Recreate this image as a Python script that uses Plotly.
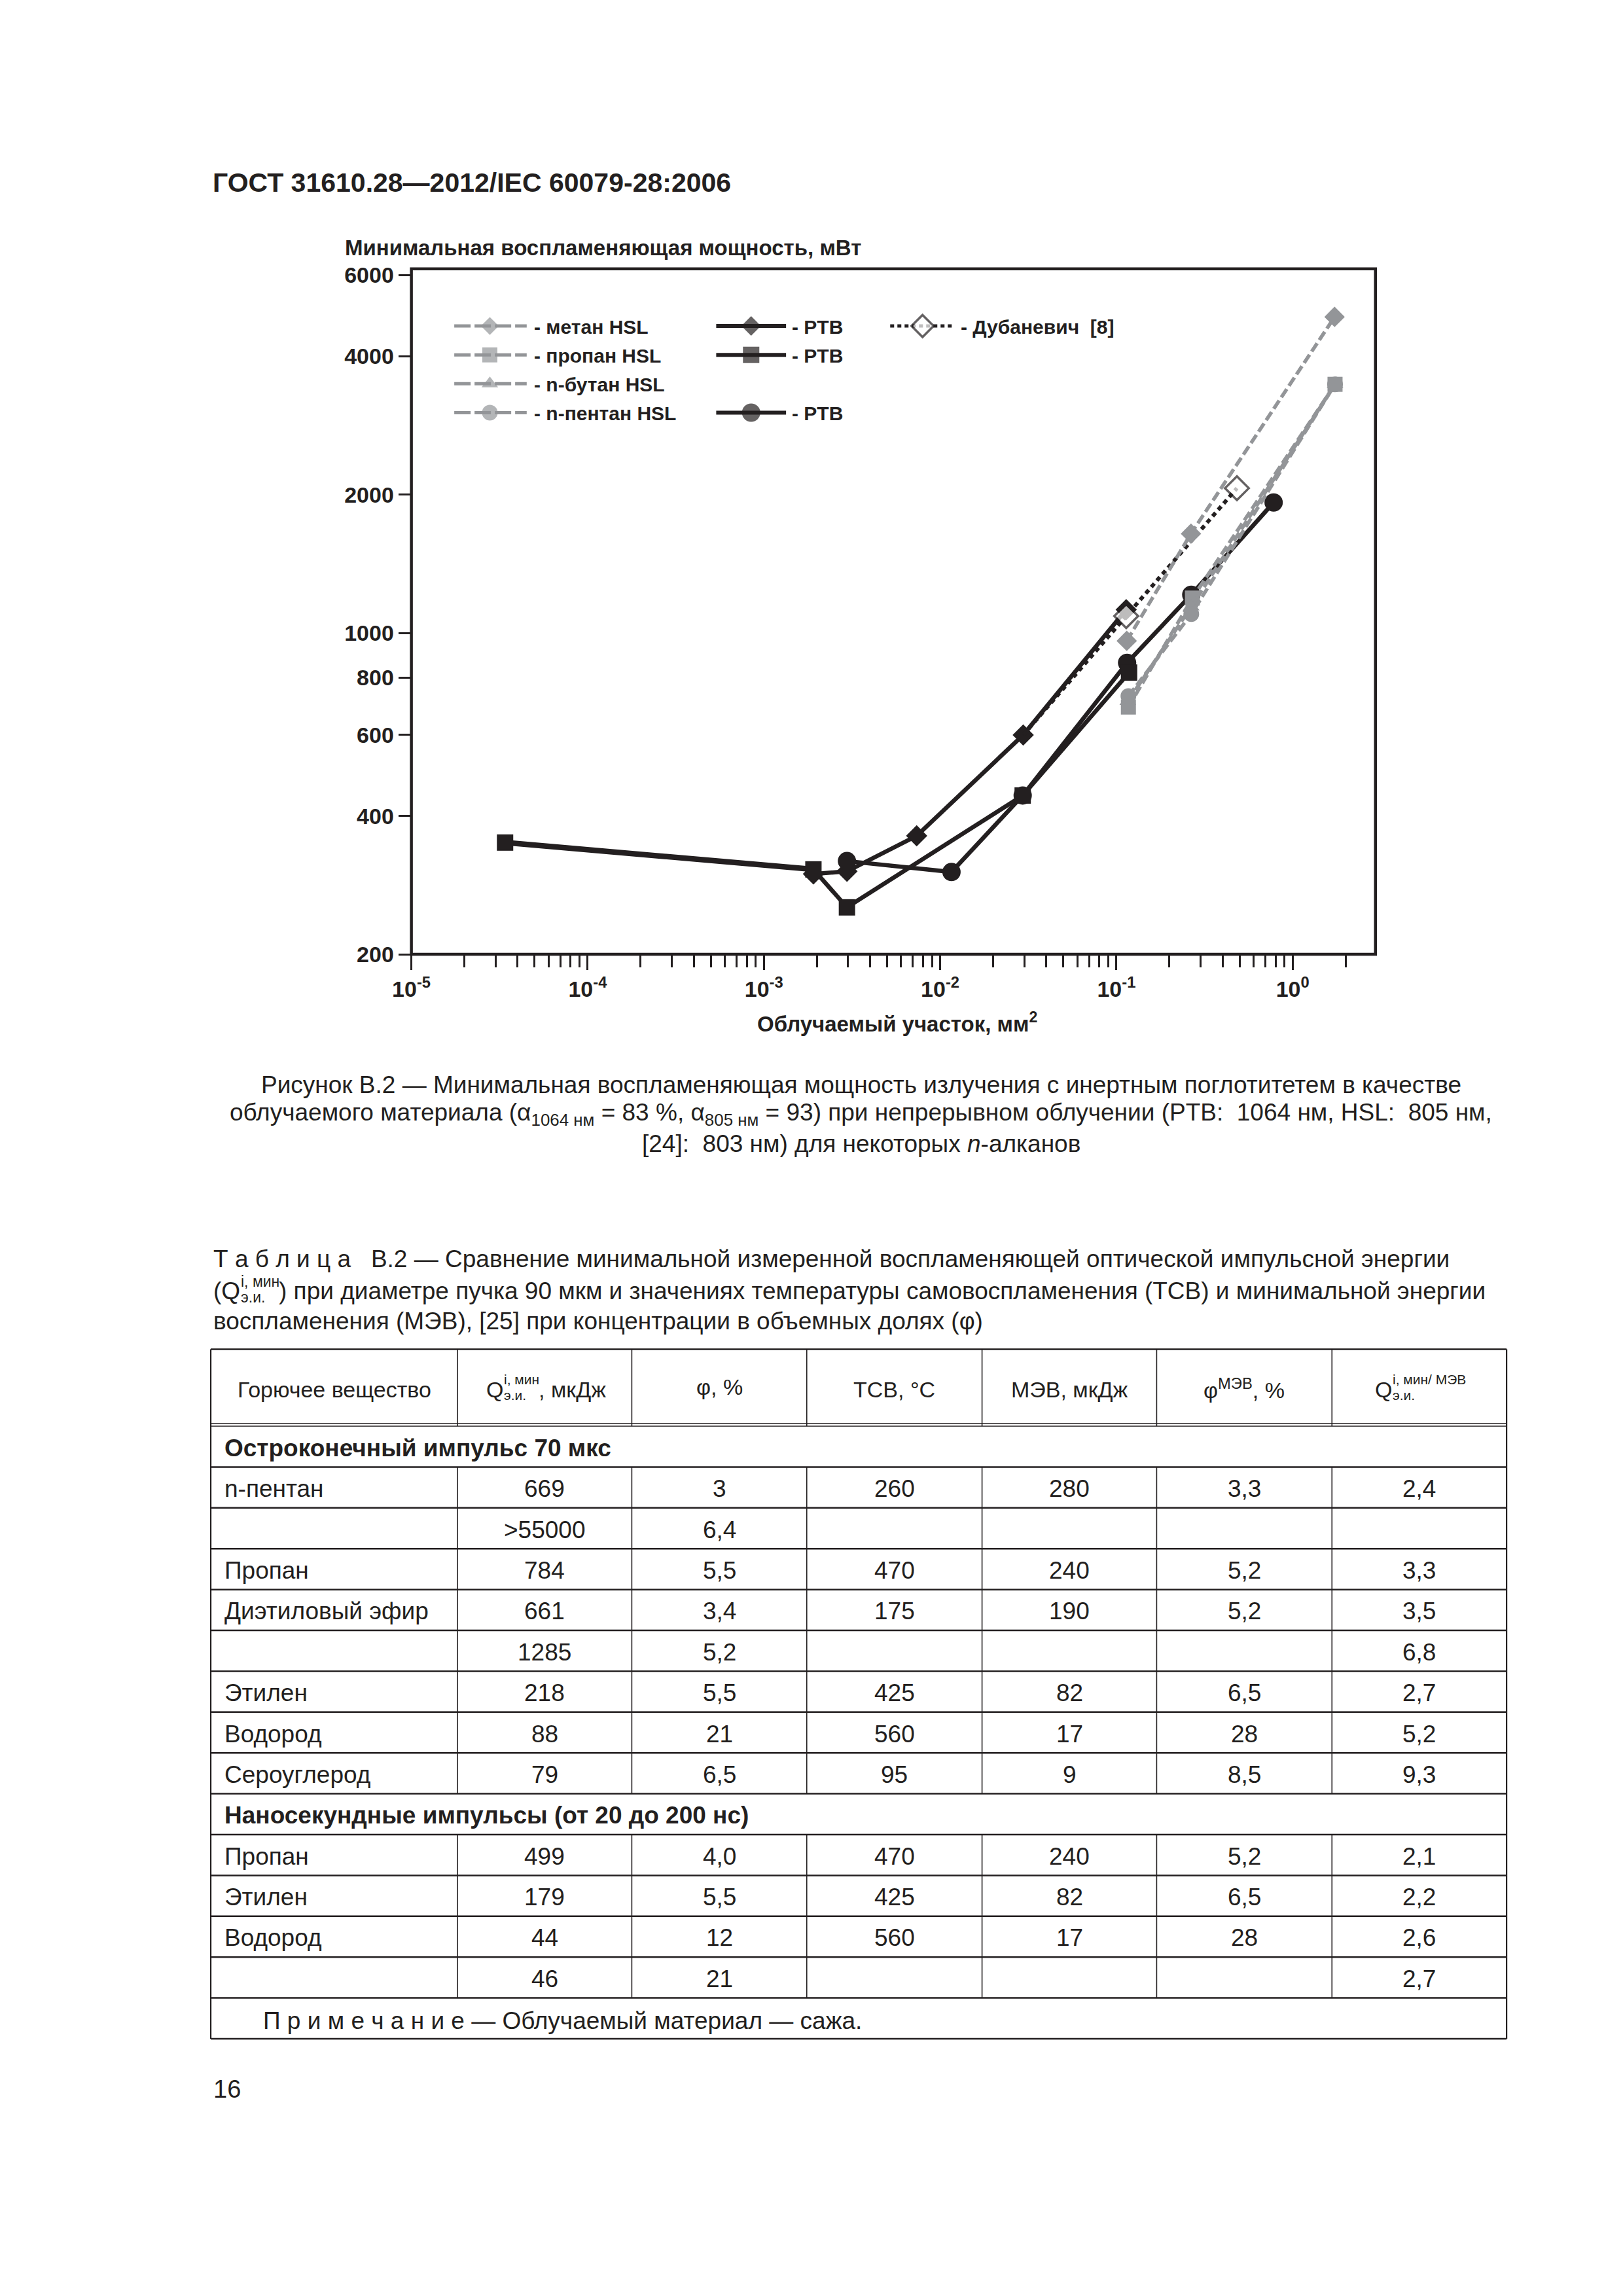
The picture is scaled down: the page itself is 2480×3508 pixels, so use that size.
import math
import plotly.graph_objects as go

W, H = 2480, 3508
FONT = "Liberation Sans"
INK = "#231f20"
GRAY = "#939598"

# ---------------- chart data ----------------
methane_x = [0.1145, 0.265, 1.73]
methane_y = [961, 1644, 4870]
propane_x = [0.117, 0.27, 1.74]
propane_y = [690, 1191, 3474]
butane_x = [0.116, 0.266, 1.74]
butane_y = [710, 1140, 3474]
pentane_x = [0.117, 0.266, 1.74]
pentane_y = [729, 1099, 3474]

ptb_diamond_x = [0.00191, 0.00296, 0.00736, 0.0296, 0.1137]
ptb_diamond_y = [299, 303, 362, 600, 1124]
ptb_square_x = [3.4e-5, 0.00191, 0.00296, 0.0294, 0.118]
ptb_square_y = [350, 306, 253, 443, 820]
ptb_circle_x = [0.00296, 0.0116, 0.0294, 0.115, 0.266, 0.78]
ptb_circle_y = [319, 302, 443, 861, 1211, 1922]
dub_x = [0.0296, 0.1137, 0.483]
dub_y = [600, 1088, 2065]

x_decades = [-5, -4, -3, -2, -1, 0]
y_ticks = [200, 400, 600, 800, 1000, 2000, 4000, 6000]

# ---------------- table data ----------------
section_titles = ["Остроконечный импульс 70 мкс", "Наносекундные импульсы (от 20 до 200 нс)"]
section_sizes = [8, 4]
substance = ["n-пентан", "", "Пропан", "Диэтиловый эфир", "", "Этилен", "Водород", "Сероуглерод",
             "Пропан", "Этилен", "Водород", ""]
q_min = ["669", ">55000", "784", "661", "1285", "218", "88", "79", "499", "179", "44", "46"]
phi = ["3", "6,4", "5,5", "3,4", "5,2", "5,5", "21", "6,5", "4,0", "5,5", "12", "21"]
tsv = ["260", "", "470", "175", "", "425", "560", "95", "470", "425", "560", ""]
mev = ["280", "", "240", "190", "", "82", "17", "9", "240", "82", "17", ""]
phi_mev = ["3,3", "", "5,2", "5,2", "", "6,5", "28", "8,5", "5,2", "6,5", "28", ""]
ratio = ["2,4", "", "3,3", "3,5", "6,8", "2,7", "5,2", "9,3", "2,1", "2,2", "2,6", "2,7"]
note_text = "П р и м е ч а н и е — Облучаемый материал — сажа."

fig = go.Figure()

# ---------------- main chart traces ----------------
def series(x, y, color, width, dash, symbol, size, fill=None, mline=0, sizes=None):
    fig.add_trace(go.Scatter(
        x=x, y=y, mode="lines+markers", xaxis="x", yaxis="y",
        line=dict(color=color, width=width, dash=dash),
        marker=dict(symbol=symbol, size=sizes if sizes else size, color=fill or color,
                    line=dict(color=color, width=mline)),
        showlegend=False, hoverinfo="skip", cliponaxis=False))

series(ptb_circle_x, ptb_circle_y, INK, 6.5, "solid", "circle", 28)
fig.add_trace(go.Scatter(x=ptb_square_x[:2], y=ptb_square_y[:2], mode="lines", xaxis="x", yaxis="y",
                         line=dict(color=INK, width=8.5), showlegend=False, hoverinfo="skip"))
series(ptb_square_x, ptb_square_y, INK, 6.5, "solid", "square", 25)
series(ptb_diamond_x, ptb_diamond_y, INK, 6.5, "solid", "diamond", 25)
series(dub_x, dub_y, INK, 6, "7px,6px", "diamond", 28, fill="white", mline=3.5,
       sizes=[0, 28, 28])
series(methane_x, methane_y, GRAY, 5.5, "15px,6px", "diamond", 24)
series(propane_x, propane_y, GRAY, 5.5, "15px,6px", "square", 23)
series(butane_x, butane_y, GRAY, 5.5, "15px,6px", "triangle-up", 22)
series(pentane_x, pentane_y, GRAY, 5.5, "15px,6px", "circle", 24)

# ---------------- legend drawn on an auxiliary page-pixel axis ----------------
leg_rows = [493, 537.5, 582, 626.5]
legend_items = [
    # x0, xm, x1, row, color, width, dash, symbol, size, fill, mline, label, text_x
    (673, 728, 785, 0, GRAY, 5, "25px,6px", "diamond", 21, GRAY, 0, "- метан HSL", 795),
    (673, 728, 785, 1, GRAY, 5, "25px,6px", "square", 23, GRAY, 0, "- пропан HSL", 795),
    (673, 728, 785, 2, GRAY, 5, "25px,6px", "triangle-up", 22, GRAY, 0, "- n-бутан HSL", 795),
    (673, 728, 785, 3, GRAY, 5, "25px,6px", "circle", 24, GRAY, 0, "- n-пентан HSL", 795),
    (1078, 1132, 1186, 0, INK, 6, "solid", "diamond", 23, INK, 0, "- PTB", 1194),
    (1078, 1132, 1186, 1, INK, 6, "solid", "square", 25, INK, 0, "- PTB", 1194),
    (1078, 1132, 1186, 3, INK, 6, "solid", "circle", 28, INK, 0, "- PTB", 1194),
    (1347, 1397, 1447, 0, INK, 5, "6px,5px", "diamond", 26, "white", 3.5,
     "- Дубаневич\u00a0\u00a0[8]", 1455),
]

ann = []
shapes = []

def T(x, y, s, size, anchor="left", bold=False):
    if bold:
        s = "<b>" + s + "</b>"
    ann.append(dict(x=x / W, y=1 - y / H, xref="paper", yref="paper", text=s, showarrow=False,
                    xanchor=anchor, yanchor="middle", borderpad=0,
                    font=dict(family=FONT, size=size, color=INK)))

for (x0, xm, x1, r, col, lw, dash, sym, ms, fill, mline, label, tx) in legend_items:
    yy = leg_rows[r]
    fig.add_trace(go.Scatter(
        x=[x0, xm, x1], y=[yy, yy, yy], mode="lines+markers", xaxis="x2", yaxis="y2",
        line=dict(color=col, width=lw, dash=dash),
        marker=dict(symbol=sym, size=[0, ms, 0], color=fill, line=dict(color=col, width=mline)),
        showlegend=False, hoverinfo="skip"))
    T(tx, yy + 1, label, 30, bold=True)

# ---------------- chart texts ----------------
T(298, 272, "ГОСТ 31610.28—2012/IEC 60079-28:2006", 41, bold=True)
T(503, 372, "Минимальная воспламеняющая мощность, мВт", 33, bold=True)
T(1358, 1565, "Облучаемый участок, мм<sup>2</sup>", 33, anchor="center", bold=True)

# plot frame
shapes.append(dict(type="rect", xref="x domain", yref="y domain", x0=0, x1=1, y0=0, y1=1,
                   line=dict(color=INK, width=4.5), layer="above"))

# ---------------- caption ----------------
NB = "\u00a0"
CAP = 37
T(1302, 1662, "Рисунок В.2 — Минимальная воспламеняющая мощность излучения с инертным поглотитетем в качестве", CAP, anchor="center")
T(1302, 1707, "облучаемого материала (α<sub>1064 нм</sub> = 83 %, α<sub>805 нм</sub> = 93) при непрерывном облучении (PTB:" + NB + " 1064 нм, HSL:" + NB + " 805 нм,", CAP, anchor="center")
T(1302, 1752, "[24]:" + NB + " 803 нм) для некоторых <i>n</i>-алканов", CAP, anchor="center")

# ---------------- approximate text width for stacked scripts ----------------
CW = {" ": .278, ",": .278, ".": .278, "(": .333, ")": .333, "/": .278, "i": .222, "Q": .778,
      "%": .889, "М": .833, "Э": .72, "В": .667, "Д": .68, "ж": .73, "м": .573, "и": .556,
      "н": .552, "к": .44, "э": .51}

def tw(s, size):
    return sum(CW.get(c, .556) for c in s) * size

def stacked(x, y, size, ssize, main, sup, sub, rest, up, down):
    T(x, y, main, size)
    xs = x + tw(main, size) + 1
    T(xs, y - up, sup, ssize)
    T(xs, y + down, sub, ssize)
    xr = xs + max(tw(sup, ssize), tw(sub, ssize)) + 2
    if rest:
        T(xr, y, rest, size)
    return xr + (tw(rest, size) if rest else 0)

# ---------------- table title ----------------
T(300, 1930, "Т" + NB + "а" + NB + "б" + NB + "л" + NB + "и" + NB + "ц" + NB + "а" + NB + NB + " В.2 — Сравнение минимальной измеренной воспламеняющей оптической импульсной энергии", CAP)
stacked(300, 1979, CAP, 23, "(Q", "i, мин", "э.и.",
        ") при диаметре пучка 90 мкм и значениях температуры самовоспламенения (ТСВ) и минимальной энергии",
        14, 10)
T(300, 2026, "воспламенения (МЭВ), [25] при концентрации в объемных долях (φ)", CAP)

# ---------------- table grid ----------------
col_edges = [296.5, 678, 947.5, 1218, 1489, 1759, 2030, 2300]
t_top = 2069
h_bot1, h_bot2 = 2183.5, 2187.5
row_h = 62.9
n_rows = 1 + section_sizes[0] + 1 + section_sizes[1] + 1
t_bot = h_bot2 + n_rows * row_h

def L(x0, y0, x1, y1, w):
    shapes.append(dict(type="line", xref="paper", yref="paper", x0=x0 / W, y0=1 - y0 / H,
                       x1=x1 / W, y1=1 - y1 / H, line=dict(color=INK, width=w)))

L(col_edges[0], t_top, col_edges[-1], t_top, 2.5)
L(col_edges[0], h_bot1, col_edges[-1], h_bot1, 1.6)
L(col_edges[0], h_bot2, col_edges[-1], h_bot2, 1.6)
L(col_edges[0], t_top, col_edges[0], t_bot, 2.2)
L(col_edges[-1], t_top, col_edges[-1], t_bot, 2.2)
for xe in col_edges[1:-1]:
    L(xe, t_top, xe, h_bot2, 1.6)

centers = [(col_edges[i] + col_edges[i + 1]) / 2 for i in range(len(col_edges) - 1)]
HS = 34   # header font
TS = 37   # body font

# header cells
hy = 2131
T(centers[0], hy, "Горючее вещество", HS, anchor="center")
w2 = tw("Q", HS) + 1 + tw("i, мин", 21) + 2 + tw(", мкДж", HS)
stacked(centers[1] - w2 / 2, hy, HS, 21, "Q", "i, мин", "э.и.", ", мкДж", 16, 9)
T(centers[2], hy - 4, "φ, %", HS, anchor="center")
T(centers[3], hy, "ТСВ, °С", HS, anchor="center")
T(centers[4], hy, "МЭВ, мкДж", HS, anchor="center")
T(centers[5], hy - 2, "φ<sup>МЭВ</sup>, %", HS, anchor="center")
w7 = tw("Q", HS) + 1 + tw("i, мин/ МЭВ", 21) + 2
stacked(centers[6] - w7 / 2, hy, HS, 21, "Q", "i, мин/ МЭВ", "э.и.", "", 16, 9)

cols = [substance, q_min, phi, tsv, mev, phi_mev, ratio]
r = 0
di = 0
for s_idx, n in enumerate(section_sizes):
    top = h_bot2 + r * row_h
    T(col_edges[0] + 20, top + row_h / 2 + 2, section_titles[s_idx], TS, bold=True)
    L(col_edges[0], top + row_h, col_edges[-1], top + row_h, 2.5)
    r += 1
    for k in range(n):
        top = h_bot2 + r * row_h
        bot = top + row_h
        for xe in col_edges[1:-1]:
            L(xe, top, xe, bot, 1.6)
        L(col_edges[0], bot, col_edges[-1], bot, 2.5)
        cy = top + row_h / 2 + 2
        for c in range(7):
            v = cols[c][di]
            if v:
                if c == 0:
                    T(col_edges[0] + 20, cy, v, TS)
                else:
                    T(centers[c], cy, v, TS, anchor="center")
        di += 1
        r += 1
top = h_bot2 + r * row_h
T(col_edges[0] + 80, top + row_h / 2 + 4, note_text.replace("П р и м е ч а н и е", "П" + NB + "р" + NB + "и" + NB + "м" + NB + "е" + NB + "ч" + NB + "а" + NB + "н" + NB + "и" + NB + "е"), TS)
L(col_edges[0], t_bot, col_edges[-1], t_bot, 2.5)

T(300, 3209, "16", 38)

# ---------------- axes ----------------
minor_vals = [k * 10 ** e for e in x_decades for k in range(2, 10) if math.log10(k * 10 ** e) <= 0.47]

fig.update_layout(
    width=W, height=H, margin=dict(l=0, r=0, t=0, b=0),
    paper_bgcolor="white", plot_bgcolor="rgba(0,0,0,0)", showlegend=False,
    xaxis=dict(type="log", range=[-5, 0.47], domain=[606.7 / W, 2097.3 / W], anchor="y",
               showline=False, showgrid=False, zeroline=False,
               ticks="outside", ticklen=23, tickwidth=3.3, tickcolor=INK,
               tickvals=[10 ** e for e in x_decades],
               ticktext=["10<sup>%d</sup>" % e for e in x_decades],
               tickfont=dict(family=FONT, size=34, color=INK, weight="bold"),
               minor=dict(tickvals=minor_vals, ticks="outside", ticklen=19, tickwidth=3.3,
                          tickcolor=INK, showgrid=False)),
    yaxis=dict(type="log", range=[math.log10(200), 3.792], domain=[1 - 1460.7 / H, 1 - 405 / H],
               anchor="x", showline=False, showgrid=False, zeroline=False,
               ticks="outside", ticklen=19, tickwidth=3.3, tickcolor=INK,
               tickvals=y_ticks, ticktext=[str(v) for v in y_ticks],
               tickfont=dict(family=FONT, size=34, color=INK, weight="bold")),
    xaxis2=dict(domain=[0, 1], range=[0, W], visible=False, showticklabels=False, ticks="",
                showgrid=False, zeroline=False, anchor="y2", fixedrange=True),
    yaxis2=dict(domain=[0, 1], range=[H, 0], visible=False, showticklabels=False, ticks="",
                showgrid=False, zeroline=False, anchor="x2", fixedrange=True),
    annotations=ann, shapes=shapes,
)

fig.write_html("out.html", config={"displayModeBar": False},
               post_script="document.body.style.margin='0px';document.body.style.overflow='hidden';")
